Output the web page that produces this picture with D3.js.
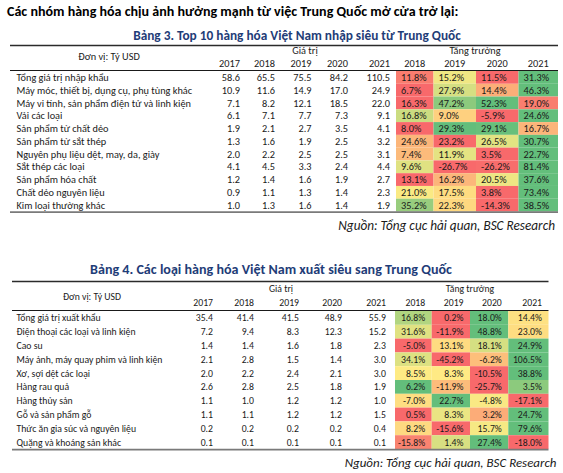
<!DOCTYPE html>
<html><head><meta charset="utf-8">
<script src="https://cdn.jsdelivr.net/npm/d3@7"></script>
<style>body{margin:0;background:#fff}svg{display:block}</style>
</head><body>
<svg id="c" width="563" height="473"></svg>
<script>
// ---------------- DATA ----------------
const mainTitle = "Các nhóm hàng hóa chịu ảnh hưởng mạnh từ việc Trung Quốc mở cửa trở lại:";
const t3Title = "Bảng 3. Top 10 hàng hóa Việt Nam nhập siêu từ Trung Quốc";
const t4Title = "Bảng 4. Các loại hàng hóa Việt Nam xuất siêu sang Trung Quốc";
const unitLabel = "Đơn vị: Tỷ USD";
const valueHeader = "Giá trị";
const growthHeader = "Tăng trưởng";
const sourceText = "Nguồn: Tổng cục hải quan, BSC Research";
const valueYears = ["2017", "2018", "2019", "2020", "2021"];
const growthYears = ["2018", "2019", "2020", "2021"];

const t3Categories = [
  "Tổng giá trị nhập khẩu",
  "Máy móc, thiết bị, dụng cụ, phụ tùng khác",
  "Máy vi tính, sản phẩm điện tử và linh kiện",
  "Vải các loại",
  "Sản phẩm từ chất dẻo",
  "Sản phẩm từ sắt thép",
  "Nguyên phụ liệu dệt, may, da, giày",
  "Sắt thép các loại",
  "Sản phẩm hóa chất",
  "Chất dẻo nguyên liệu",
  "Kim loại thường khác"
];
const t3Values = [
  [58.6, 65.5, 75.5, 84.2, 110.5],
  [10.9, 11.6, 14.9, 17.0, 24.9],
  [7.1, 8.2, 12.1, 18.5, 22.0],
  [6.1, 7.1, 7.7, 7.3, 9.1],
  [1.9, 2.1, 2.7, 3.5, 4.1],
  [1.3, 1.6, 1.9, 2.5, 3.2],
  [2.0, 2.2, 2.5, 2.5, 3.1],
  [4.1, 4.5, 3.3, 2.4, 4.4],
  [1.2, 1.4, 1.6, 1.9, 2.7],
  [0.9, 1.1, 1.3, 1.4, 2.3],
  [1.0, 1.3, 1.6, 1.4, 1.9]
];
const t3Growth = [
  [11.8, 15.2, 11.5, 31.3],
  [6.7, 27.9, 14.4, 46.3],
  [16.3, 47.2, 52.3, 19.0],
  [16.8, 9.0, -5.9, 24.6],
  [8.0, 29.3, 29.1, 16.7],
  [24.6, 23.2, 26.5, 30.7],
  [7.4, 11.9, 3.5, 22.7],
  [9.6, -26.7, -26.2, 81.4],
  [13.1, 16.2, 20.5, 37.6],
  [21.0, 17.5, 3.8, 73.4],
  [35.2, 22.3, -14.3, 38.5]
];

const t4Categories = [
  "Tổng giá trị xuất khẩu",
  "Điện thoại các loại và linh kiện",
  "Cao su",
  "Máy ảnh, máy quay phim và linh kiện",
  "Xơ, sợi dệt các loại",
  "Hàng rau quả",
  "Hàng thủy sản",
  "Gỗ và sản phẩm gỗ",
  "Thức ăn gia súc và nguyên liệu",
  "Quặng và khoáng sản khác"
];
const t4Values = [
  [35.4, 41.4, 41.5, 48.9, 55.9],
  [7.2, 9.4, 8.3, 12.3, 15.2],
  [1.4, 1.4, 1.6, 1.8, 2.3],
  [2.1, 2.8, 1.5, 1.4, 3.0],
  [2.0, 2.2, 2.4, 2.1, 3.0],
  [2.6, 2.8, 2.5, 1.8, 1.9],
  [1.1, 1.0, 1.2, 1.2, 1.0],
  [1.1, 1.1, 1.2, 1.2, 1.5],
  [0.2, 0.2, 0.2, 0.2, 0.4],
  [0.1, 0.1, 0.1, 0.1, 0.1]
];
const t4Growth = [
  [16.8, 0.2, 18.0, 14.4],
  [31.6, -11.9, 48.8, 23.0],
  [-5.0, 13.1, 18.1, 24.9],
  [34.1, -45.2, -6.2, 106.5],
  [8.5, 8.3, -10.5, 38.8],
  [6.2, -11.9, -25.7, 3.5],
  [-7.0, 22.7, -4.8, -17.1],
  [0.5, 8.3, 3.2, 24.7],
  [8.2, -15.6, 15.7, 79.6],
  [-15.8, 1.4, 27.4, -18.0]
];

// ---------------- LAYOUT / STYLE ----------------
const FONT = "Carlito, Lato, 'Open Sans', sans-serif";
const TXT = "#1a1a1a";
const BLUE = "#1f3d78";
const RED = "#F8696B", YEL = "#FFEB84", GRN = "#63BE7B";

const svg = d3.select("#c");
svg.append("rect").attr("width", 563).attr("height", 473).attr("fill", "#fff");

function fitWidth(sel, target) {
  const w = sel.node().getComputedTextLength();
  const fs = parseFloat(sel.attr("font-size"));
  if (w > 0) sel.attr("font-size", fs * target / w);
}
function measure(text, size, weight) {
  const t = svg.append("text").attr("font-family", FONT).attr("font-size", size)
    .attr("font-weight", weight || "normal").text(text);
  const w = t.node().getComputedTextLength();
  t.remove();
  return w;
}

// Main title
const mt = svg.append("text").attr("x", 7).attr("y", 16)
  .attr("font-family", FONT).attr("font-weight", "bold").attr("font-size", 14)
  .attr("fill", "#000").text(mainTitle);
fitWidth(mt, 452);

function drawTable(cfg) {
  const g = svg.append("g");
  // title
  const tt = g.append("text").attr("x", cfg.titleX).attr("y", cfg.titleY)
    .attr("text-anchor", "middle").attr("font-family", FONT).attr("font-weight", "bold")
    .attr("font-size", 15).attr("fill", BLUE).text(cfg.title);
  fitWidth(tt, cfg.titleW);

  // font size for body so longest label matches measured width
  const longest = cfg.categories.reduce((a, b) => measure(b, 10) > measure(a, 10) ? b : a);
  const fs = 10 * cfg.labelW / measure(longest, 10);

  const y = d3.scaleBand().domain(cfg.categories).range([cfg.top, cfg.bottom]);
  const valueX = d3.scaleOrdinal().domain(valueYears).range(cfg.valueRight);
  const growthX = d3.scaleOrdinal().domain(growthYears).range(cfg.cellEdges.slice(0, 4));
  const growthX2 = d3.scaleOrdinal().domain(growthYears).range(cfg.cellEdges.slice(1));

  // coloured cells
  cfg.growth.forEach((row, i) => {
    const sorted = row.slice().sort(d3.ascending);
    const color = d3.scaleLinear()
      .domain([sorted[0], d3.quantile(sorted, 0.5), sorted[sorted.length - 1]])
      .range([RED, YEL, GRN]).interpolate(d3.interpolateRgb).clamp(true);
    const cat = cfg.categories[i];
    growthYears.forEach((yr, j) => {
      const x0 = growthX(yr), x1 = growthX2(yr);
      g.append("rect").attr("x", x0).attr("y", y(cat))
        .attr("width", x1 - x0).attr("height", y.bandwidth())
        .attr("fill", color(row[j]));
      g.append("text")
        .attr("x", cfg.growthAlign === "start" ? x0 + 5 : x1 - 6.5)
        .attr("y", y(cat) + y.bandwidth() / 2)
        .attr("dy", "0.35em").attr("text-anchor", cfg.growthAlign)
        .attr("font-family", FONT).attr("font-size", fs).attr("fill", TXT)
        .text(row[j].toFixed(1) + "%");
    });
  });

  // labels & values
  cfg.categories.forEach((cat, i) => {
    g.append("text").attr("x", 16.5).attr("y", y(cat) + y.bandwidth() / 2)
      .attr("dy", "0.35em").attr("font-family", FONT).attr("font-size", fs)
      .attr("fill", TXT).text(cat);
    valueYears.forEach((yr, j) => {
      g.append("text").attr("x", valueX(yr)).attr("y", y(cat) + y.bandwidth() / 2)
        .attr("dy", "0.35em").attr("text-anchor", "end")
        .attr("font-family", FONT).attr("font-size", fs).attr("fill", TXT)
        .text(cfg.values[i][j].toFixed(1));
    });
  });

  // header
  const hdr = (txt, x, yy, anchor) => g.append("text").attr("x", x).attr("y", yy)
    .attr("dy", "0.35em").attr("text-anchor", anchor || "middle")
    .attr("font-family", FONT).attr("font-size", fs).attr("fill", TXT).text(txt);
  hdr(unitLabel, cfg.unitX, cfg.unitY);
  hdr(valueHeader, cfg.valueHdrX, cfg.groupHdrY);
  hdr(growthHeader, cfg.growthHdrX, cfg.groupHdrY);
  valueYears.forEach(yr => hdr(yr, valueX(yr), cfg.yearY, "end"));
  growthYears.forEach(yr => {
    if (cfg.growthAlign === "start") hdr(yr, (growthX(yr) + growthX2(yr)) / 2, cfg.yearY, "middle");
    else hdr(yr, growthX2(yr) - 6.5, cfg.yearY, "end");
  });

  // rules
  g.append("line").attr("x1", cfg.lineX0).attr("x2", cfg.lineX1)
    .attr("y1", cfg.topLine).attr("y2", cfg.topLine)
    .attr("stroke", "#2b2b2b").attr("stroke-width", 1.6);
  g.append("line").attr("x1", cfg.lineX0).attr("x2", cfg.lineX1)
    .attr("y1", cfg.top - 0.5).attr("y2", cfg.top - 0.5)
    .attr("stroke", "#1a1a1a").attr("stroke-width", 1.1);
  g.append("line").attr("x1", cfg.lineX0).attr("x2", cfg.lineX1)
    .attr("y1", cfg.bottom + 0.6).attr("y2", cfg.bottom + 0.6)
    .attr("stroke", "#7a7a7a").attr("stroke-width", 1.8);

  // source
  const src = g.append("text").attr("x", cfg.srcRight).attr("y", cfg.srcY)
    .attr("text-anchor", "end").attr("font-family", FONT).attr("font-style", "italic")
    .attr("font-size", 12).attr("fill", TXT).text(sourceText);
  fitWidth(src, cfg.srcW);
}

drawTable({
  title: t3Title, titleX: 297, titleY: 40, titleW: 328,
  categories: t3Categories, values: t3Values, growth: t3Growth,
  labelW: 176,
  top: 71, bottom: 211.5,
  valueRight: [240, 275, 311.5, 348, 390],
  cellEdges: [396, 433.5, 476, 518.5, 558],
  growthAlign: "start",
  unitX: 109, unitY: 56.5, valueHdrX: 305, growthHdrX: 475, groupHdrY: 50.5, yearY: 63.5,
  lineX0: 10, lineX1: 558, topLine: 45.5,
  srcRight: 555, srcY: 230, srcW: 217
});

drawTable({
  title: t4Title, titleX: 271, titleY: 273.5, titleW: 362,
  categories: t4Categories, values: t4Values, growth: t4Growth,
  labelW: 146,
  top: 311, bottom: 449,
  valueRight: [213, 254, 299, 342, 386],
  cellEdges: [395, 431.7, 470, 508.3, 548.5],
  growthAlign: "end",
  unitX: 92, unitY: 296.5, valueHdrX: 281, growthHdrX: 470, groupHdrY: 288.5, yearY: 303,
  lineX0: 12, lineX1: 548.5, topLine: 281.5,
  srcRight: 556.5, srcY: 467, srcW: 212
});
</script>
</body></html>
